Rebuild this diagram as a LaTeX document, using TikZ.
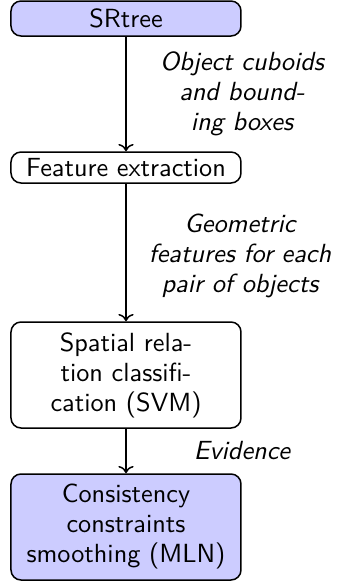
\documentclass[tikz,border=0pt]{standalone}
\usetikzlibrary{arrows.meta}
\begin{document}
\begin{tikzpicture}[x=0.4pt,y=-0.4pt,
  every node/.style={font=\sffamily\fontsize{10.5pt}{12pt}\selectfont},
  stage/.style={draw,semithick,rounded corners=4pt,text width=86pt,align=center,
    inner xsep=3pt,inner ysep=1pt},
  hilite/.style={stage,fill=blue!20},
  flowlabel/.style={font=\sffamily\itshape\fontsize{10.5pt}{12pt}\selectfont,
    align=center,inner sep=0pt},
  flow/.style={semithick,->}]
  \useasboundingbox (0,0) rectangle (336,583);

  % pipeline stages
  \node[hilite,minimum height=14pt] (srtree) at (126,18.5) {SRtree};
  \node[stage,minimum height=12.4pt] (feat) at (126,167.5) {Feature extraction};
  \node[stage,minimum height=42.4pt] (svm) at (126,375)
    {Spatial rela-\\tion classifi-\\cation (SVM)};
  \node[hilite,minimum height=42.4pt] (mln) at (126,527)
    {Consistency\\constraints\\smoothing (MLN)};

  % data passed between stages
  \draw[flow] (srtree) -- (feat);
  \draw[flow] (feat) -- (svm);
  \draw[flow] (svm) -- (mln);

  \node[flowlabel] (l1) at (242,94) {Object cuboids\\and bound-\\ing boxes};
  \node[flowlabel] (l2) at (240,256) {Geometric\\features for each\\pair of objects};
  \node[flowlabel] (l3) at (242,451) {Evidence};
\end{tikzpicture}
\end{document}
